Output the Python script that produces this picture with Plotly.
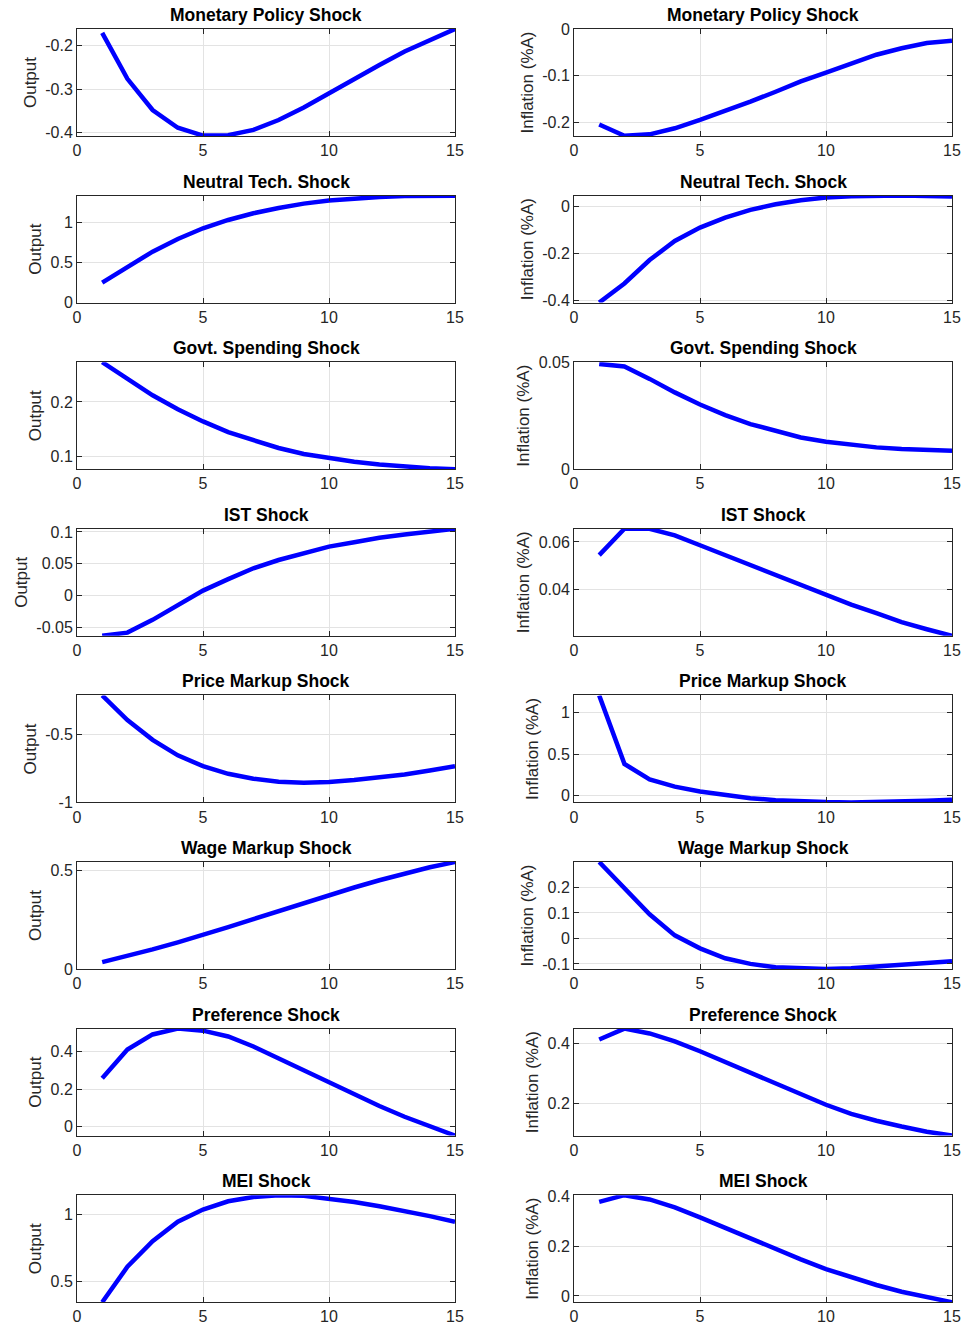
import plotly.graph_objects as go

horizon = list(range(1, 16))

titles = ["Monetary Policy Shock", "Neutral Tech. Shock", "Govt. Spending Shock", "IST Shock",
          "Price Markup Shock", "Wage Markup Shock", "Preference Shock", "MEI Shock"]

output_monetary = [-0.170, -0.276, -0.348, -0.389, -0.407, -0.406, -0.394, -0.371, -0.342, -0.309,
                   -0.276, -0.244, -0.213, -0.186, -0.161]
inflation_monetary = [-0.204, -0.228, -0.225, -0.212, -0.194, -0.175, -0.155, -0.134, -0.112, -0.093,
                      -0.073, -0.055, -0.041, -0.030, -0.025]

output_neutral = [0.25, 0.45, 0.637, 0.796, 0.929, 1.033, 1.117, 1.183, 1.237, 1.275,
                  1.30, 1.32, 1.333, 1.337, 1.337]
inflation_neutral = [-0.411, -0.329, -0.229, -0.147, -0.090, -0.047, -0.014, 0.010, 0.027, 0.0386,
                     0.044, 0.047, 0.047, 0.0457, 0.043]

output_govt = [0.2724, 0.243, 0.212, 0.1865, 0.1644, 0.1448, 0.1294, 0.116, 0.105, 0.0969,
               0.0908, 0.0859, 0.0822, 0.0791, 0.0773]
inflation_govt = [0.0492, 0.048, 0.0422, 0.0359, 0.0302, 0.0253, 0.0211, 0.0177, 0.0148, 0.0128,
                  0.0113, 0.0102, 0.0094, 0.0089, 0.0086]

output_ist = [-0.063, -0.058, -0.038, -0.0155, 0.008, 0.026, 0.043, 0.056, 0.067, 0.077,
              0.084, 0.091, 0.096, 0.101, 0.105]
inflation_ist = [0.0544, 0.0656, 0.0656, 0.0628, 0.0586, 0.0544, 0.0499, 0.0456, 0.0414, 0.0372,
                 0.0334, 0.0297, 0.0259, 0.0229, 0.0201]

output_price = [-0.215, -0.396, -0.541, -0.655, -0.734, -0.790, -0.826, -0.848, -0.855, -0.850,
                -0.836, -0.819, -0.795, -0.766, -0.734]
inflation_price = [1.21, 0.385, 0.198, 0.111, 0.052, 0.008, -0.028, -0.052, -0.067, -0.075,
                   -0.079, -0.075, -0.067, -0.060, -0.048]

output_wage = [0.035, 0.066, 0.100, 0.136, 0.173, 0.213, 0.254, 0.295, 0.336, 0.377,
               0.415, 0.452, 0.486, 0.518, 0.545]
inflation_wage = [0.300, 0.200, 0.095, 0.012, -0.039, -0.078, -0.100, -0.113, -0.117, -0.120,
                  -0.117, -0.111, -0.105, -0.097, -0.090]

output_pref = [0.258, 0.410, 0.490, 0.521, 0.510, 0.479, 0.426, 0.363, 0.300, 0.232,
               0.168, 0.110, 0.053, 0.000, -0.047]
inflation_pref = [0.413, 0.449, 0.433, 0.407, 0.374, 0.338, 0.302, 0.266, 0.230, 0.197,
                  0.167, 0.144, 0.125, 0.108, 0.095]

output_mei = [0.347, 0.611, 0.802, 0.946, 1.037, 1.099, 1.131, 1.144, 1.139, 1.119,
              1.094, 1.062, 1.027, 0.988, 0.946]
inflation_mei = [0.377, 0.404, 0.387, 0.355, 0.315, 0.273, 0.231, 0.187, 0.147, 0.108,
                 0.075, 0.044, 0.017, -0.005, -0.025]

output_series = [output_monetary, output_neutral, output_govt, output_ist,
                 output_price, output_wage, output_pref, output_mei]
inflation_series = [inflation_monetary, inflation_neutral, inflation_govt, inflation_ist,
                    inflation_price, inflation_wage, inflation_pref, inflation_mei]

output_ranges = [[-0.408, -0.161], [0, 1.3375], [0.0773, 0.2724], [-0.063, 0.105],
                 [-1.0, -0.215], [0, 0.545], [-0.047, 0.521], [0.347, 1.144]]
inflation_ranges = [[-0.2285, 0], [-0.411, 0.047], [0, 0.05], [0.0201, 0.0656],
                    [-0.079, 1.21], [-0.12, 0.30], [0.095, 0.449], [-0.025, 0.404]]

output_ticks = [["-0.4", "-0.3", "-0.2"], ["0", "0.5", "1"], ["0.1", "0.2"],
                ["-0.05", "0", "0.05", "0.1"], ["-1", "-0.5"], ["0", "0.5"],
                ["0", "0.2", "0.4"], ["0.5", "1"]]
inflation_ticks = [["-0.2", "-0.1", "0"], ["-0.4", "-0.2", "0"], ["0", "0.05"],
                   ["0.04", "0.06"], ["0", "0.5", "1"], ["-0.1", "0", "0.1", "0.2"],
                   ["0.2", "0.4"], ["0", "0.2", "0.4"]]

x_ticks = ["0", "5", "10", "15"]

W, H = 964, 1329
left_px = [(77, 455), (574, 952)]
row_top0, row_pitch, row_h = 29, 166.6, 107

fig = go.Figure()
axis_color = "#262626"
font_family = "Liberation Sans, Arial, Helvetica, sans-serif"
annotations = []
k = 0
for r in range(8):
    top = row_top0 + r * row_pitch
    bot = top + row_h
    ydom = [1 - bot / H, 1 - top / H]
    for c in range(2):
        k += 1
        series = output_series[r] if c == 0 else inflation_series[r]
        yr = output_ranges[r] if c == 0 else inflation_ranges[r]
        yt = output_ticks[r] if c == 0 else inflation_ticks[r]
        ylab = "Output" if c == 0 else "Inflation (%A)"
        xdom = [left_px[c][0] / W, left_px[c][1] / W]
        sfx = "" if k == 1 else str(k)
        fig.add_trace(go.Scatter(x=horizon, y=series, mode="lines",
                                 line=dict(color="#0000FF", width=4.5),
                                 xaxis="x" + sfx, yaxis="y" + sfx, showlegend=False,
                                 hoverinfo="skip"))
        common = dict(showline=True, linecolor=axis_color, linewidth=1, mirror="ticks",
                      ticks="inside", ticklen=5, tickcolor=axis_color, tickwidth=1,
                      showgrid=True, gridcolor="#e3e3e3", gridwidth=1, zeroline=False,
                      automargin=False,
                      tickfont=dict(family=font_family, size=16, color=axis_color))
        fig.layout["xaxis" + sfx] = dict(domain=xdom, anchor="y" + sfx, range=[0, 15],
                                         tickvals=[float(t) for t in x_ticks], ticktext=x_ticks,
                                         **common)
        fig.layout["yaxis" + sfx] = dict(domain=ydom, anchor="x" + sfx, range=yr,
                                         tickvals=[float(t) for t in yt], ticktext=yt,
                                         title=dict(text=ylab, standoff=4,
                                                    font=dict(family=font_family, size=17,
                                                              color=axis_color)),
                                         **common)
        annotations.append(dict(text="<b>" + titles[r] + "</b>", xref="paper", yref="paper",
                                x=(xdom[0] + xdom[1]) / 2, y=ydom[1], xanchor="center",
                                yanchor="bottom", yshift=2, showarrow=False,
                                font=dict(family=font_family, size=17.5, color="black")))

fig.update_layout(width=W, height=H, margin=dict(l=0, r=0, t=0, b=0, autoexpand=False),
                  paper_bgcolor="white", plot_bgcolor="white", annotations=annotations,
                  hovermode=False)
fig.write_html("out.html", config={"displayModeBar": False},
               post_script="document.body.style.margin='0';document.body.style.overflow='hidden';")
